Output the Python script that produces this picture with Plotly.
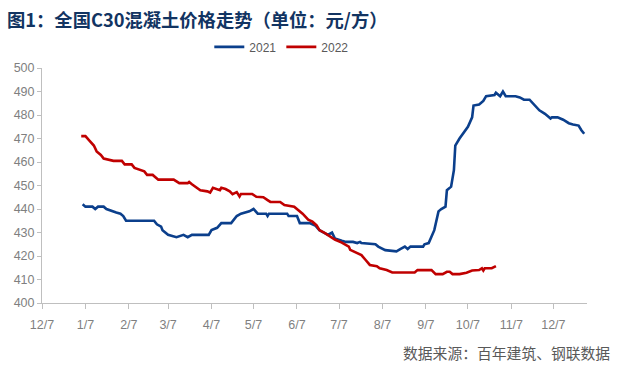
import pandas as pd
import plotly.graph_objects as go

# ---- data ----
dates_2021 = [
    "2021-01-05", "2021-01-07", "2021-01-12", "2021-01-14", "2021-01-16", "2021-01-20",
    "2021-01-22", "2021-01-26", "2021-01-29", "2021-02-01", "2021-02-03", "2021-02-05",
    "2021-02-25", "2021-02-27", "2021-03-02", "2021-03-03", "2021-03-07", "2021-03-13",
    "2021-03-18", "2021-03-21", "2021-03-24", "2021-04-05", "2021-04-07", "2021-04-11",
    "2021-04-14", "2021-04-17", "2021-04-21", "2021-04-25", "2021-04-28", "2021-05-04",
    "2021-05-07", "2021-05-10", "2021-05-16", "2021-05-17", "2021-05-18", "2021-05-31",
    "2021-06-01", "2021-06-07", "2021-06-09", "2021-06-16", "2021-06-20", "2021-06-23",
    "2021-06-26", "2021-06-29", "2021-07-02", "2021-07-04", "2021-07-09", "2021-07-12",
    "2021-07-17", "2021-07-20", "2021-07-22", "2021-07-23", "2021-08-02", "2021-08-04",
    "2021-08-09", "2021-08-17", "2021-08-20", "2021-08-23", "2021-08-25", "2021-08-27",
    "2021-09-05", "2021-09-06", "2021-09-09", "2021-09-11", "2021-09-13", "2021-09-16",
    "2021-09-18", "2021-09-21", "2021-09-22", "2021-09-25", "2021-09-27", "2021-09-28",
    "2021-10-01", "2021-10-07", "2021-10-10", "2021-10-11", "2021-10-15", "2021-10-18",
    "2021-10-20", "2021-10-26", "2021-10-27", "2021-10-30", "2021-11-01", "2021-11-03",
    "2021-11-10", "2021-11-13", "2021-11-16", "2021-11-20", "2021-11-24", "2021-11-27",
    "2021-12-01", "2021-12-05", "2021-12-06", "2021-12-10", "2021-12-14", "2021-12-18",
    "2021-12-21", "2021-12-25", "2021-12-27", "2021-12-29",
]
values_2021 = [
    442, 441, 441, 440, 441, 441,
    440, 439, 438.5, 438, 437, 435,
    435, 433.5, 432.5, 431, 429, 428,
    429, 428, 429, 429, 431, 432,
    434, 434, 434, 437, 438, 439,
    440, 438, 438, 437, 438, 438,
    437, 437, 434, 434, 433, 431,
    430, 429, 430, 427.5, 426.5, 426,
    426, 425.5, 426, 425.5, 425, 424,
    422.5, 422, 423, 424, 423, 424,
    424, 425, 425.5, 428, 431, 439,
    440, 441, 448, 449.5, 456.5, 467,
    470, 475, 479, 484, 484.5, 486,
    488, 488.5, 489.5, 488, 490, 488,
    488, 487.5, 486.5, 486.5, 484, 482,
    480.5, 478.5, 479, 479, 478, 476.5,
    476, 475.5, 473.5, 472,
]

dates_2022 = [
    "2022-01-04", "2022-01-07", "2022-01-10", "2022-01-13", "2022-01-15", "2022-01-18",
    "2022-01-20", "2022-01-25", "2022-01-27", "2022-02-02", "2022-02-04", "2022-02-09",
    "2022-02-11", "2022-02-18", "2022-02-20", "2022-02-24", "2022-02-28", "2022-03-11",
    "2022-03-15", "2022-03-21", "2022-03-22", "2022-03-24", "2022-03-30", "2022-04-04",
    "2022-04-06", "2022-04-08", "2022-04-11", "2022-04-13", "2022-04-14", "2022-04-17",
    "2022-04-20", "2022-04-22", "2022-04-25", "2022-04-27", "2022-04-28", "2022-05-06",
    "2022-05-09", "2022-05-14", "2022-05-17", "2022-05-19", "2022-05-26", "2022-05-29",
    "2022-06-05", "2022-06-08", "2022-06-11", "2022-06-15", "2022-06-18", "2022-06-21",
    "2022-06-23", "2022-06-27", "2022-06-30", "2022-07-04", "2022-07-09", "2022-07-14",
    "2022-07-15", "2022-07-20", "2022-07-23", "2022-07-26", "2022-07-29", "2022-08-03",
    "2022-08-05", "2022-08-10", "2022-08-14", "2022-08-30", "2022-09-01", "2022-09-11",
    "2022-09-14", "2022-09-19", "2022-09-22", "2022-09-24", "2022-09-26", "2022-10-01",
    "2022-10-06", "2022-10-10", "2022-10-15", "2022-10-17", "2022-10-18", "2022-10-19",
    "2022-10-24", "2022-10-27",
]
values_2022 = [
    471, 471, 469, 467, 464.5, 463,
    461.5, 461, 460.5, 460.5, 459, 459,
    457.5, 456, 454.5, 454.5, 452.5, 452.5,
    451, 451, 451.5, 450.5, 448, 447.5,
    447, 449, 448.5, 448, 449, 448.5,
    447.5, 446.3, 447.2, 445.3, 446.4, 446.4,
    445.2, 445, 443.8, 443, 443, 441.7,
    441, 439.6, 438, 435.5, 434.6, 433,
    431, 429.7, 428.5, 427, 425.7, 424,
    422.6, 421, 420.4, 418.3, 416.2, 415.7,
    414.8, 414, 413, 413, 414, 414,
    412.3, 412.3, 413.3, 413.3, 412.3, 412.3,
    412.9, 413.8, 414, 414.8, 413.8, 414.8,
    414.8, 415.7,
]

tick_dates = [
    "2020-12-07", "2021-01-07", "2021-02-07", "2021-03-07", "2021-04-07", "2021-05-07",
    "2021-06-07", "2021-07-07", "2021-08-07", "2021-09-07", "2021-10-07", "2021-11-07",
    "2021-12-07",
]
tick_labels = ["12/7", "1/7", "2/7", "3/7", "4/7", "5/7", "6/7", "7/7", "8/7", "9/7",
               "10/7", "11/7", "12/7"]
y_ticks = [400, 410, 420, 430, 440, 450, 460, 470, 480, 490, 500]

title_text = "图1：全国C30混凝土价格走势（单位：元/方）"
source_text = "数据来源：百年建筑、钢联数据"

# 2022 plotted on the shared month/day axis
x_2022 = pd.to_datetime(dates_2022) - pd.DateOffset(years=1)

fig = go.Figure()
fig.add_trace(go.Scatter(
    x=pd.to_datetime(dates_2021), y=values_2021, mode="lines", name="2021",
    line=dict(color="#0B3F8C", width=2.6),
))
fig.add_trace(go.Scatter(
    x=x_2022, y=values_2022, mode="lines", name="2022",
    line=dict(color="#C00000", width=2.6),
))

axis_gray = "#BFBFBF"
tick_font = dict(family="Liberation Sans, Arial, sans-serif", size=12.5, color="#7F7F7F")

fig.update_layout(
    width=627, height=374,
    margin=dict(l=42, r=40, t=68, b=71),
    paper_bgcolor="white", plot_bgcolor="white",
    showlegend=True,
    legend=dict(
        orientation="h", x=0.44, xanchor="center", y=1.09, yanchor="middle",
        font=dict(family="Liberation Sans, Arial, sans-serif", size=12, color="#595959"),
        itemwidth=30, tracegroupgap=0, bgcolor="rgba(0,0,0,0)",
    ),
    xaxis=dict(
        type="date", range=["2020-12-07", "2021-12-31"],
        tickvals=tick_dates, ticktext=tick_labels,
        showgrid=False, zeroline=False,
        showline=True, linecolor=axis_gray, linewidth=1,
        ticks="outside", ticklen=5, tickcolor=axis_gray,
        ticklabelstandoff=5,
        tickfont=tick_font,
    ),
    yaxis=dict(
        range=[400, 500], tickvals=y_ticks,
        showgrid=False, zeroline=False,
        showline=True, linecolor=axis_gray, linewidth=1,
        ticks="outside", ticklen=4, tickcolor=axis_gray,
        tickfont=tick_font,
    ),
    annotations=[
        dict(
            text="<b>" + title_text + "</b>", xref="paper", yref="paper",
            x=-0.068, y=1.21, xanchor="left", yanchor="middle", showarrow=False,
            font=dict(family="Noto Sans CJK SC", size=18.3, color="#123462"),
        ),
        dict(
            text=source_text, xref="paper", yref="paper",
            x=1.046, y=-0.21, xanchor="right", yanchor="middle", showarrow=False,
            font=dict(family="Noto Sans CJK SC", size=14.8, color="#595959"),
        ),
    ],
)

fig.write_html("out.html", config={"displayModeBar": False},
               post_script="document.body.style.margin='0';")
